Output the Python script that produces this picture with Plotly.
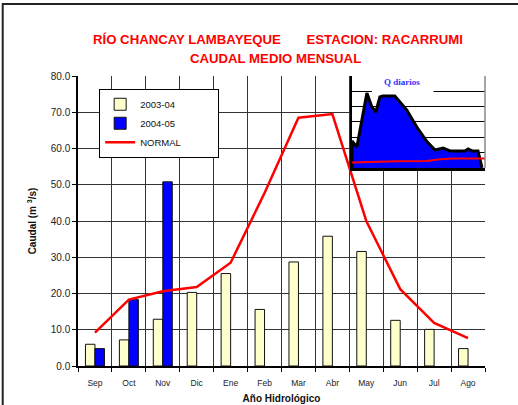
import plotly.graph_objects as go

# ---- data ----
months = ["Sep", "Oct", "Nov", "Dic", "Ene", "Feb", "Mar", "Abr", "May", "Jun", "Jul", "Ago"]
q_2003_04 = [6.0, 7.2, 12.9, 20.3, 25.5, 15.6, 28.7, 35.8, 31.6, 12.6, 10.1, 4.8]
q_2004_05 = [4.8, 18.3, 50.8, None, None, None, None, None, None, None, None, None]
q_normal = [9.2, 18.3, 20.6, 21.8, 28.5, 47.7, 68.5, 69.5, 40.0, 21.2, 11.9, 7.7]

# inset "Q diarios" (arbitrary units)
daily_x = [0.00, 0.00, 0.15, 0.45, 0.60, 0.72, 0.84, 0.93, 1.29, 1.65, 1.95, 2.26, 2.50, 2.74, 2.95, 3.40, 3.49, 3.61, 3.79, 3.91]
daily_q = [0.00, 1.76, 1.37, 4.89, 3.98, 3.65, 4.63, 4.70, 4.70, 3.78, 2.67, 1.70, 1.17, 1.30, 1.11, 1.11, 1.24, 1.11, 1.11, 0.00]
daily_norm_x = [0.00, 0.64, 1.34, 2.25, 2.65, 3.05, 4.02]
daily_norm_q = [0.35, 0.41, 0.44, 0.46, 0.57, 0.61, 0.62]

FONT = "Arial, Liberation Sans, sans-serif"
NB = "\u00a0"

fig = go.Figure()
fig.add_trace(go.Bar(x=months, y=q_2003_04, name="2003-04",
                     marker=dict(color="#FFFFCC", line=dict(color="#111111", width=1))))
fig.add_trace(go.Bar(x=months, y=q_2004_05, name="2004-05",
                     marker=dict(color="#0000FF", line=dict(color="#111111", width=1))))
fig.add_trace(go.Scatter(x=months, y=q_normal, name="NORMAL" + NB * 12, mode="lines",
                         line=dict(color="#FF0000", width=2.5)))

# inset
fig.add_trace(go.Scatter(x=daily_x, y=daily_q, xaxis="x2", yaxis="y2", mode="lines",
                         fill="toself", fillcolor="#0000FF",
                         line=dict(color="#000000", width=3), showlegend=False, hoverinfo="skip"))
fig.add_trace(go.Scatter(x=daily_norm_x, y=daily_norm_q, xaxis="x2", yaxis="y2", mode="lines",
                         line=dict(color="#FF0000", width=2), showlegend=False, hoverinfo="skip"))

fig.update_layout(
    width=518, height=405,
    margin=dict(l=78, r=33, t=76, b=39, autoexpand=False),
    paper_bgcolor="white", plot_bgcolor="white",
    font=dict(family=FONT, color="#222222"),
    barmode="group", bargap=0.44, bargroupgap=0,
    showlegend=True,
    legend=dict(x=0.052, y=0.956, xanchor="left", yanchor="top",
                bgcolor="white", bordercolor="#000000", borderwidth=1,
                font=dict(size=9.5, family=FONT, color="#111111"),
                tracegroupgap=0, itemwidth=30),
    xaxis=dict(type="category", tickson="boundaries", ticks="outside", ticklen=4,
               tickcolor="#000000", showgrid=True, gridcolor="#333333", gridwidth=1,
               showline=True, linecolor="#000000", linewidth=1.5, automargin=False,
               ticklabelstandoff=8,
               tickfont=dict(size=8.5, color="#222222"),
               title=dict(text="<b>Año Hidrológico</b>", font=dict(size=10, color="#111111"), standoff=8)),
    yaxis=dict(range=[0, 80], dtick=10, tickformat=".1f", ticks="outside", ticklen=4,
               tickcolor="#000000", showgrid=True, gridcolor="#333333", gridwidth=1,
               showline=True, linecolor="#000000", linewidth=1.5, zeroline=False, automargin=False,
               tickfont=dict(size=10, color="#222222"),
               title=dict(text="<b>Caudal (m <sup>3</sup>/s)</b>", font=dict(size=10, color="#111111"), standoff=12)),
    xaxis2=dict(domain=[0.673, 1.0], anchor="y2", range=[0, 4], showgrid=False,
                showticklabels=False, ticks="", zeroline=False,
                showline=True, linecolor="#000000", linewidth=3),
    yaxis2=dict(domain=[0.683, 1.0], anchor="x2", range=[0, 6], dtick=1, showgrid=True,
                gridcolor="#000000", gridwidth=1, showticklabels=False, ticks="", zeroline=False,
                showline=True, linecolor="#000000", linewidth=2),
    shapes=[
        dict(type="rect", xref="x2 domain", yref="y2 domain", x0=0, x1=1, y0=0, y1=1,
             fillcolor="white", line=dict(width=0), layer="below"),
        dict(type="rect", xref="x2", yref="y2", x0=0.6, x1=2.45, y0=4.85, y1=6.1,
             fillcolor="white", line=dict(width=0), layer="above"),
        dict(type="line", xref="x2 domain", yref="y2 domain", x0=1, x1=1, y0=0, y1=1,
             line=dict(color="#888888", width=1.5)),
        dict(type="rect", xref="paper", yref="paper", x0=-0.185, x1=1.3, y0=-0.5, y1=1.248,
             line=dict(color="#222222", width=2), fillcolor="rgba(0,0,0,0)", layer="above"),
    ],
    annotations=[
        dict(text="<b>RÍO CHANCAY LAMBAYEQUE" + NB * 7 + "ESTACION: RACARRUMI</b>",
             xref="paper", yref="paper", x=0.491, y=1.157, showarrow=False,
             font=dict(size=13.2, color="#FF0000", family=FONT)),
        dict(text="<b>CAUDAL MEDIO MENSUAL</b>",
             xref="paper", yref="paper", x=0.485, y=1.092, showarrow=False,
             font=dict(size=13.2, color="#FF0000", family=FONT)),
        dict(text="<b>Q diarios</b>", xref="x2", yref="y2", x=1.5, y=5.6, showarrow=False,
             font=dict(size=9, color="#3333FF", family="Times New Roman, Liberation Serif, serif")),
    ],
)

fig.write_html("out.html", config={"displayModeBar": False},
               post_script="document.body.style.margin='0';")
